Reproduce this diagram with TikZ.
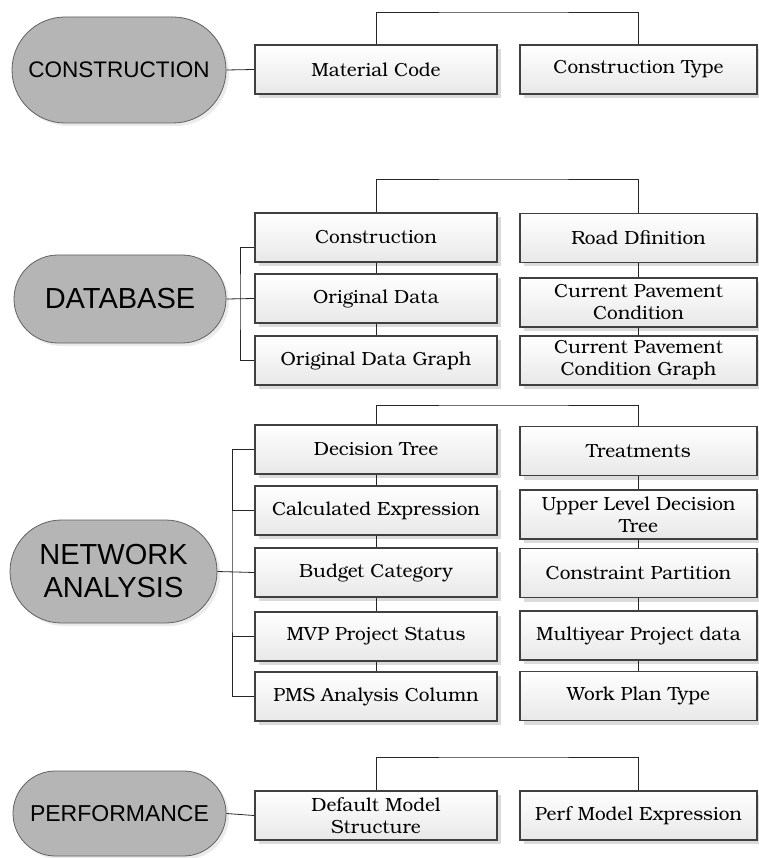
\documentclass[tikz,border=0pt]{standalone}
\usepackage{fontspec}
\setmainfont{TeX Gyre Bonum}
\newfontfamily\hubfont{Liberation Sans}
\usetikzlibrary{shadows,calc}
\begin{document}
\begin{tikzpicture}[x=1pt,y=1pt,
  hub/.style={draw=black!62, line width=0.8pt, fill=black!29, inner sep=0pt, align=center,
    drop shadow={shadow xshift=3pt,shadow yshift=-3pt,fill=black!8,opacity=1}},
  item/.style={draw=black!75, line width=1.6pt, top color=white, bottom color=black!9,
    minimum height=49pt, inner sep=0pt, align=center, font=\fontsize{19}{22}\selectfont,
    drop shadow={shadow xshift=4pt,shadow yshift=-4pt,fill=black!14,opacity=1}},
  lcol/.style={item, minimum width=242pt},
  rcol/.style={item, minimum width=237pt},
  conn/.style={draw=black!85, line width=0.8pt}]
\fill[white] (0,0) rectangle (758,-858);
\useasboundingbox (0,0) rectangle (758,-858);

% ---------- CONSTRUCTION ----------
\node[hub, rounded corners=53pt, minimum width=214pt, minimum height=106pt,
  font=\hubfont\fontsize{22.5}{26}\selectfont] (hc) at (119,-70) {CONSTRUCTION};
\node[lcol] (mc) at (376,-69.5) {Material Code};
\node[rcol] (ct) at (638.5,-69.5) {Construction Type};
\coordinate (t1) at (500,-12);
\draw[conn] (hc.east) -- (mc.west);
\draw[conn] (mc.north) |- (t1) -| (ct.north);

% ---------- DATABASE ----------
\node[hub, rounded corners=44pt, minimum width=212pt, minimum height=88pt,
  font=\hubfont\fontsize{29}{33}\selectfont] (hdb) at (120,-299) {DATABASE};
\node[lcol] (d1) at (376,-237.5) {Construction};
\node[lcol] (d2) at (376,-298.5) {Original Data};
\node[lcol] (d3) at (376,-360.5) {Original Data Graph};
\node[rcol] (r1) at (638.5,-238) {Road Dfinition};
\node[rcol] (r2) at (638.5,-302.5) {Current Pavement\\Condition};
\node[rcol] (r3) at (638.5,-360.5) {Current Pavement\\Condition Graph};
\coordinate (t2) at (500,-179);
\coordinate (b2) at (240,-300);
\draw[conn] (d1.north) |- (t2) -| (r1.north);
\draw[conn] ($(d1.west)+(0,-9.5)$) -| (b2) |- (d3.west);
\draw[conn] (hdb.east) -- (d2.west);
\draw[conn] (d1.south) -- (d2.north);
\draw[conn] (d2.south) -- (d3.north);
\draw[conn] (r1.south) -- (r2.north);
\draw[conn] (r2.south) -- (r3.north);

% ---------- NETWORK ANALYSIS ----------
\node[hub, rounded corners=51.5pt, minimum width=207pt, minimum height=103pt,
  font=\hubfont\fontsize{29}{33}\selectfont] (hna) at (113.5,-571.5) {NETWORK\\ANALYSIS};
\node[lcol] (n1) at (376,-449.5) {Decision Tree};
\node[lcol] (n2) at (376,-510.5) {Calculated Expression};
\node[lcol] (n3) at (376,-572.5) {Budget Category};
\node[lcol] (n4) at (376,-636.5) {MVP Project Status};
\node[lcol] (n5) at (376,-696.5) {PMS Analysis Column};
\node[rcol] (m1) at (638.5,-451) {Treatments};
\node[rcol] (m2) at (638.5,-514.5) {Upper Level Decision\\Tree};
\node[rcol] (m3) at (638.5,-573) {Constraint Partition};
\node[rcol] (m4) at (638.5,-635.5) {Multiyear Project data};
\node[rcol] (m5) at (638.5,-696) {Work Plan Type};
\coordinate (t3) at (500,-405);
\coordinate (b3) at (232,-570);
\draw[conn] (n1.north) |- (t3) -| (m1.north);
\draw[conn] (n1.west) -| (b3) |- (n5.west);
\draw[conn] (n2.west) -- (n2.west -| b3);
\draw[conn] (n4.west) -- (n4.west -| b3);
\draw[conn] (hna.east) -- (n3.west);
\draw[conn] (n1.south) -- (n2.north);
\draw[conn] (n2.south) -- (n3.north);
\draw[conn] (n3.south) -- (n4.north);
\draw[conn] (n4.south) -- (n5.north);
\draw[conn] (m1.south) -- (m2.north);
\draw[conn] (m2.south) -- (m3.north);
\draw[conn] (m3.south) -- (m4.north);
\draw[conn] (m4.south) -- (m5.north);

% ---------- PERFORMANCE ----------
\node[hub, rounded corners=42.5pt, minimum width=213pt, minimum height=85pt,
  font=\hubfont\fontsize{23}{27}\selectfont] (hpf) at (119.5,-813.5) {PERFORMANCE};
\node[lcol] (p1) at (376,-815.5) {Default Model\\Structure};
\node[rcol] (p2) at (638.5,-815.5) {Perf Model Expression};
\coordinate (t4) at (500,-757);
\draw[conn] (hpf.east) -- (p1.west);
\draw[conn] (p1.north) |- (t4) -| (p2.north);
\end{tikzpicture}
\end{document}
